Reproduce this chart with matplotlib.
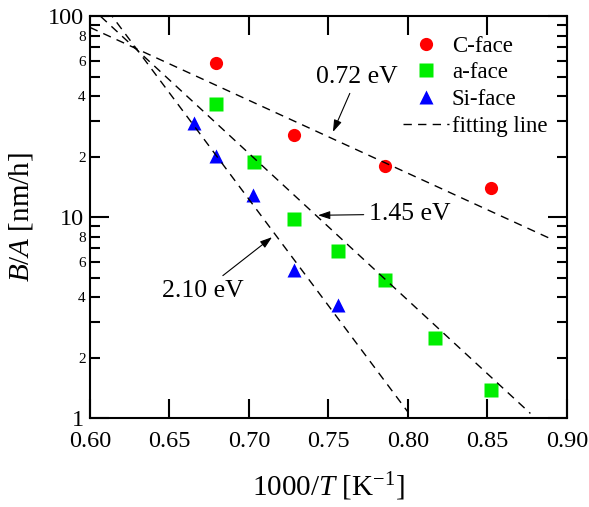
import numpy as np
import matplotlib
matplotlib.use("Agg")
import matplotlib.pyplot as plt
from matplotlib.ticker import LogLocator, FixedLocator, FuncFormatter

plt.rcParams["font.family"] = ["Liberation Serif", "DejaVu Serif"]
plt.rcParams["mathtext.fontset"] = "custom"
plt.rcParams["mathtext.rm"] = "Liberation Serif"
plt.rcParams["mathtext.it"] = "Liberation Serif:italic"

# 1000/T [1/K] and B/A [nm/h] for each face
c_x = [0.679, 0.728, 0.7855, 0.852]
c_y = [58.4, 25.6, 17.9, 13.9]

a_x = [0.679, 0.703, 0.728, 0.756, 0.7855, 0.817, 0.852]
a_y = [36.5, 18.8, 9.8, 6.8, 4.86, 2.50, 1.38]

si_x = [0.6654, 0.679, 0.7025, 0.728, 0.756]
si_y = [29.4, 20.1, 12.9, 5.45, 3.65]

# Arrhenius fits: activation energy [eV], value at 1000/T = 0.80, x range
fit_ea = [0.72, 1.45, 2.10]
fit_at_080 = [16.5, 3.85, 1.07]
fit_xmax = [0.889, 0.877, 0.80]

K_B = 8.617e-5  # eV/K

fig = plt.figure(figsize=(5.89, 5.07), dpi=100)
ax = fig.add_axes([0.1528, 0.1755, 0.8098, 0.7929])

ax.plot(c_x, c_y, "o", color="#ff0000", ms=9.5, mec="none", label="C-face")
ax.plot(a_x, a_y, "s", color="#00ee00", ms=9.5, mec="none", label="a-face")
ax.plot(si_x, si_y, "^", color="#0000ff", ms=10, mec="none", label="Si-face")

for i, (ea, y0, xmax) in enumerate(zip(fit_ea, fit_at_080, fit_xmax)):
    xs = np.linspace(0.60, xmax, 200)
    ys = y0 * np.exp(-ea / K_B * (xs - 0.80) / 1000.0)
    ax.plot(xs, ys, color="black", lw=1.0, dashes=(6, 4.5),
            label="fitting line" if i == 0 else None)

ax.set_yscale("log")
ax.set_xlim(0.60, 0.90)
ax.set_ylim(1, 100)


def minor_label(v, pos):
    # only the mantissa 2, 4, 6, 8 is written between decades
    m = int(round(v / 10 ** np.floor(np.log10(v) + 1e-9)))
    return str(m) if m in (2, 4, 6, 8) else ""


ax.xaxis.set_major_locator(FixedLocator([0.60, 0.65, 0.70, 0.75, 0.80, 0.85, 0.90]))
ax.xaxis.set_major_formatter(FuncFormatter(lambda v, p: f"{v:.2f}"))
ax.yaxis.set_major_locator(FixedLocator([1, 10, 100]))
ax.yaxis.set_major_formatter(FuncFormatter(lambda v, p: f"{v:g}"))
ax.yaxis.set_minor_locator(LogLocator(base=10, subs=np.arange(2, 10)))
ax.yaxis.set_minor_formatter(FuncFormatter(minor_label))

ax.tick_params(which="both", direction="in", top=True, right=True, width=1.5)
ax.tick_params(which="major", length=14, labelsize=17.5, pad=4)
ax.tick_params(axis="x", which="major", pad=9)
ax.tick_params(which="minor", length=7, labelsize=11, pad=3)
for s in ax.spines.values():
    s.set_linewidth(1.5)

ax.set_xlabel(r"1000/$T$ [K$^{\mathrm{-1}}$]", fontsize=21)
ax.set_ylabel(r"$B$/$A$ [nm/h]", fontsize=21)
ax.xaxis.set_label_coords(0.5, -0.13)
ax.yaxis.set_label_coords(-0.115, 0.5)

arrow = dict(arrowstyle="-|>,head_length=0.6,head_width=0.2", color="black",
             lw=0.8, mutation_scale=12, shrinkA=2, shrinkB=0)
ax.annotate("0.72 eV", xy=(0.7528, 26.5), xytext=(0.7679, 49.7), fontsize=18.5,
            ha="center", va="center", arrowprops=arrow)
ax.annotate("1.45 eV", xy=(0.7434, 10.2), xytext=(0.8013, 10.35), fontsize=18.5,
            ha="center", va="center", arrowprops=arrow)
ax.annotate("2.10 eV", xy=(0.7145, 7.94), xytext=(0.6711, 4.28), fontsize=18.5,
            ha="center", va="center", arrowprops=arrow)

ax.legend(loc="upper right", frameon=False, fontsize=16.5, handlelength=2.0,
          handletextpad=0.15, labelspacing=0.25, borderaxespad=0.45,
          bbox_to_anchor=(1.0, 1.0))

fig.savefig("out.png", dpi=100)
